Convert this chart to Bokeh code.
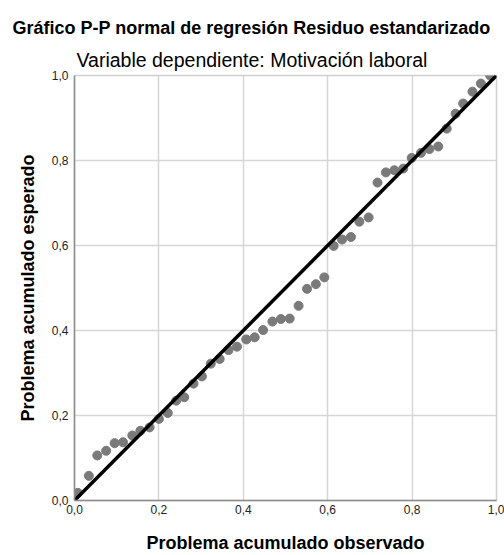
from bokeh.plotting import figure
from bokeh.models import Title, FixedTicker, CustomJSTickFormatter, Range1d
from bokeh.embed import file_html
from bokeh.resources import INLINE

# Observed cumulative probability (x) and expected cumulative probability (y)
observed = [0.008, 0.034, 0.054, 0.075, 0.095, 0.115, 0.137, 0.156, 0.178, 0.200,
            0.221, 0.241, 0.260, 0.282, 0.302, 0.323, 0.344, 0.365, 0.385, 0.407,
            0.427, 0.447, 0.469, 0.489, 0.510, 0.531, 0.551, 0.572, 0.592, 0.614,
            0.634, 0.655, 0.675, 0.697, 0.718, 0.738, 0.758, 0.779, 0.799, 0.821,
            0.841, 0.862, 0.882, 0.903, 0.921, 0.943, 0.963, 0.985]
expected = [0.018, 0.058, 0.106, 0.117, 0.135, 0.137, 0.153, 0.164, 0.172, 0.192,
            0.206, 0.235, 0.243, 0.275, 0.292, 0.322, 0.333, 0.354, 0.362, 0.379,
            0.384, 0.401, 0.421, 0.427, 0.428, 0.458, 0.498, 0.509, 0.525, 0.599,
            0.614, 0.620, 0.656, 0.666, 0.748, 0.772, 0.777, 0.781, 0.806, 0.818,
            0.827, 0.833, 0.875, 0.910, 0.934, 0.962, 0.981, 1.000]
diag_x = [0.0, 1.0]
diag_y = [0.0, 1.0]
tick_values = [0.0, 0.2, 0.4, 0.6, 0.8, 1.0]

title_main = "Gráfico P-P normal de regresión Residuo estandarizado"
title_sub = "Variable dependiente: Motivación laboral"
x_label = "Problema acumulado observado"
y_label = "Problema acumulado esperado"

FONT = "Liberation Sans"

p = figure(width=504, height=555, output_backend="svg", toolbar_location=None,
           x_range=Range1d(0, 1), y_range=Range1d(0, 1),
           min_border_left=74, min_border_right=8, min_border_top=75,
           min_border_bottom=54, background_fill_color="white",
           border_fill_color="white", outline_line_color="#d0d0d0",
           outline_line_width=1.5)

# main title (outer) and subtitle (added -> closest to the plot)
p.title.text = title_main
p.title.text_font = FONT
p.title.text_font_size = "18px"
p.title.text_font_style = "bold"
p.title.align = "left"
p.title.offset = -62
p.title.standoff = 10
p.title.text_color = "black"

sub = Title(text=title_sub, text_font=FONT, text_font_size="19.5px",
            text_font_style="normal", align="left", offset=2, standoff=9,
            text_color="black")
p.add_layout(sub, "above")

p.scatter(observed, expected, size=9, color="#7a7a7a", line_color="#7a7a7a")
p.line(diag_x, diag_y, line_color="black", line_width=3.5)

fmt = CustomJSTickFormatter(code="return tick.toFixed(1).replace('.', ',');")
for ax in (p.xaxis[0], p.yaxis[0]):
    ax.ticker = FixedTicker(ticks=tick_values)
    ax.formatter = fmt
    ax.major_tick_line_color = None
    ax.minor_tick_line_color = None
    ax.major_tick_out = 0
    ax.major_tick_in = 0
    ax.minor_tick_out = 0
    ax.axis_line_color = "#8c8c8c"
    ax.axis_line_width = 1.5
    ax.major_label_text_font = FONT
    ax.major_label_text_font_size = "12px"
    ax.major_label_text_color = "#222222"
    ax.axis_label_text_font = FONT
    ax.axis_label_text_font_size = "18px"
    ax.axis_label_text_font_style = "bold"
    ax.axis_label_text_color = "black"

p.xaxis.axis_label = x_label
p.yaxis.axis_label = y_label
p.xaxis.major_label_standoff = 4
p.yaxis.major_label_standoff = 6
p.xaxis.axis_label_standoff = 16
p.yaxis.axis_label_standoff = 11

p.xgrid.ticker = FixedTicker(ticks=tick_values)
p.ygrid.ticker = FixedTicker(ticks=tick_values)
p.grid.grid_line_color = "#d6d6d6"
p.grid.grid_line_width = 1.5

open("out.html", "w").write(file_html(p, INLINE))
